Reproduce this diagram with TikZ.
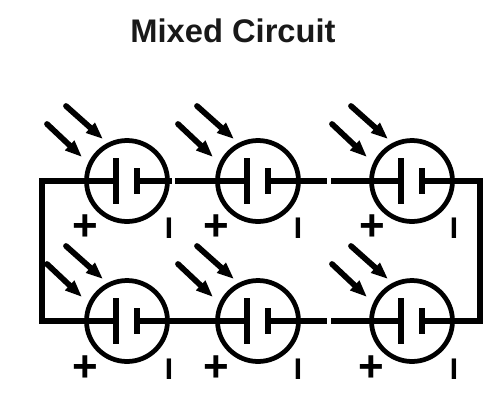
\documentclass[tikz,border=0pt]{standalone}
\usepackage{fontspec}
\setmainfont{Liberation Sans}
\usetikzlibrary{arrows.meta}

\begin{document}
\begin{tikzpicture}[x=0.02cm, y=-0.02cm,
      cell/.style={circle, draw=black, line width=0.095cm, minimum size=1.62cm, inner sep=0pt},
      longplate/.style={rectangle, fill=black, minimum width=0.125cm, minimum height=0.92cm, inner sep=0pt},
      shortplate/.style={rectangle, fill=black, minimum width=0.125cm, minimum height=0.52cm, inner sep=0pt},
      wire/.style={black, line width=0.115cm, line join=miter},
      ray/.style={-{Triangle[length=0.34cm, width=0.25cm]}, black, line width=0.115cm, line cap=round},
      plus/.style={font=\fontsize{25}{25}\selectfont\bfseries, inner sep=0pt},
      minus/.style={font=\fontsize{17}{17}\selectfont\bfseries, inner sep=0pt},
      title/.style={font=\fontsize{18.6}{20}\selectfont\bfseries, text=black!90, inner sep=0pt}
    ]
      \useasboundingbox (0,0) rectangle (499,406);
      \node[title] (heading) at (233,31) {Mixed Circuit};
      % upper row
      \node[cell] (cellA) at (127,181) {};
      \node[cell] (cellB) at (258,181) {};
      \node[cell] (cellC) at (412,181) {};
      % lower row
      \node[cell] (cellD) at (127,321) {};
      \node[cell] (cellE) at (258,321) {};
      \node[cell] (cellF) at (412,321) {};
      % plates
      \node[longplate] (longA) at (116,181) {};
      \node[shortplate] (shortA) at (137,181) {};
      \node[longplate] (longB) at (247,181) {};
      \node[shortplate] (shortB) at (268,181) {};
      \node[longplate] (longC) at (401,181) {};
      \node[shortplate] (shortC) at (422,181) {};
      \node[longplate] (longD) at (116,321) {};
      \node[shortplate] (shortD) at (137,321) {};
      \node[longplate] (longE) at (247,321) {};
      \node[shortplate] (shortE) at (268,321) {};
      \node[longplate] (longF) at (401,321) {};
      \node[shortplate] (shortF) at (422,321) {};
      % signs
      \node[plus] (plusA) at (85,228) {+};
      \node[minus] (minusA) at (169,228) {I};
      \node[plus] (plusB) at (216,228) {+};
      \node[minus] (minusB) at (298,228) {I};
      \node[plus] (plusC) at (372,228) {+};
      \node[minus] (minusC) at (454,228) {I};
      \node[plus] (plusD) at (85,369) {+};
      \node[minus] (minusD) at (169,369) {I};
      \node[plus] (plusE) at (216,369) {+};
      \node[minus] (minusE) at (298,369) {I};
      \node[plus] (plusF) at (371,369) {+};
      \node[minus] (minusF) at (454,369) {I};
      % wires, the small breaks are in the original
      \coordinate (topleft) at (42,181);
      \coordinate (botleft) at (42,321);
      \coordinate (topright) at (480,181);
      \coordinate (botright) at (480,321);
      \coordinate (breakAB) at (172,181);
      \coordinate (breakABend) at (175,181);
      \coordinate (breakBC) at (327,181);
      \coordinate (breakBCend) at (331,181);
      \coordinate (breakEF) at (327,321);
      \coordinate (breakEFend) at (331,321);
      \draw[wire] (longD.center) -- (botleft) -- (topleft) -- (longA.center);
      \draw[wire] (shortA.center) -- (breakAB);
      \draw[wire] (breakABend) -- (longB.center);
      \draw[wire] (shortB.center) -- (breakBC);
      \draw[wire] (breakBCend) -- (longC.center);
      \draw[wire] (shortC.center) -- (topright) -- (botright) -- (shortF.center);
      \draw[wire] (shortD.center) -- (longE.center);
      \draw[wire] (shortE.center) -- (breakEF);
      \draw[wire] (breakEFend) -- (longF.center);
      % light
      \draw[ray] ([shift={(-80,-57)}]cellA.center) -- ([shift={(-45,-24)}]cellA.center);
      \draw[ray] ([shift={(-61,-75)}]cellA.center) -- ([shift={(-24,-42)}]cellA.center);
      \draw[ray] ([shift={(-80,-57)}]cellB.center) -- ([shift={(-45,-24)}]cellB.center);
      \draw[ray] ([shift={(-61,-75)}]cellB.center) -- ([shift={(-24,-42)}]cellB.center);
      \draw[ray] ([shift={(-80,-57)}]cellC.center) -- ([shift={(-45,-24)}]cellC.center);
      \draw[ray] ([shift={(-61,-75)}]cellC.center) -- ([shift={(-24,-42)}]cellC.center);
      \draw[ray] ([shift={(-80,-57)}]cellD.center) -- ([shift={(-45,-24)}]cellD.center);
      \draw[ray] ([shift={(-61,-75)}]cellD.center) -- ([shift={(-24,-42)}]cellD.center);
      \draw[ray] ([shift={(-80,-57)}]cellE.center) -- ([shift={(-45,-24)}]cellE.center);
      \draw[ray] ([shift={(-61,-75)}]cellE.center) -- ([shift={(-24,-42)}]cellE.center);
      \draw[ray] ([shift={(-80,-57)}]cellF.center) -- ([shift={(-45,-24)}]cellF.center);
      \draw[ray] ([shift={(-61,-75)}]cellF.center) -- ([shift={(-24,-42)}]cellF.center);
    \end{tikzpicture}
\end{document}
